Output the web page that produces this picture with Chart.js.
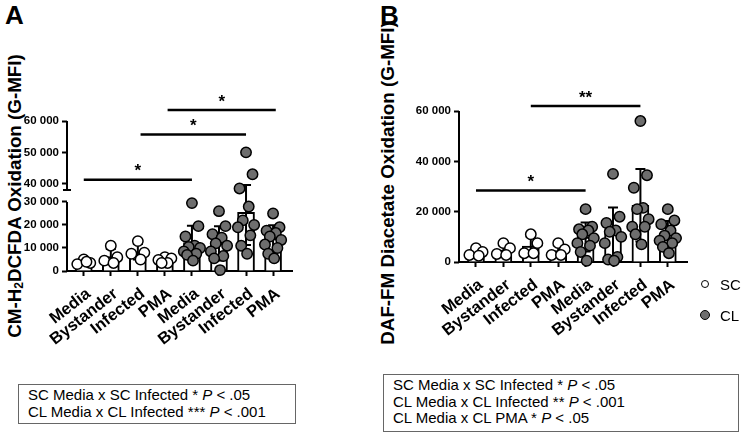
<!DOCTYPE html>
<html>
<head>
<meta charset="utf-8">
<script src="https://cdn.jsdelivr.net/npm/chart.js@4.4.1/dist/chart.umd.min.js"></script>
<style>
  body { margin: 0; background: #fff; width: 742px; height: 434px; position: relative; overflow: hidden;
         font-family: 'Liberation Sans', Arial, sans-serif; color: #000; }
  canvas { position: absolute; top: 0; }
  #chartA { left: 0; }
  #chartB { left: 370px; }
  .panel { position: absolute; font-weight: bold; font-size: 26px; line-height: 1; }
  .ytitle { position: absolute; font-weight: bold; font-size: 18.8px; white-space: nowrap;
            transform: translate(-50%, -50%) rotate(-90deg); line-height: 1; }
  .ytitle sub { font-size: 12px; vertical-align: -2px; }
  .box { position: absolute; border: 1px solid #666; box-sizing: border-box;
         font-family: 'Liberation Sans', Arial, sans-serif; font-size: 15px; line-height: 16.5px; padding: 2px 0 0 9px; }
  .leg { position: absolute; font-size: 15px; line-height: 1; }
  .dot { position: absolute; width: 8px; height: 8px; border: 1.5px solid #000; border-radius: 50%; box-sizing: border-box; }
</style>
</head>
<body>
<div class="panel" style="left:5px;top:2px">A</div>
<div class="panel" style="left:380px;top:2px">B</div>
<div class="ytitle" style="left:15px;top:196px">CM-H<sub>2</sub>DCFDA Oxidation (G-MFI)</div>
<div class="ytitle" style="left:388px;top:183px">DAF-FM Diacetate Oxidation (G-MFI)</div>
<canvas id="chartA" width="370" height="370"></canvas>
<canvas id="chartB" width="372" height="370"></canvas>
<div class="dot" style="left:701px;top:280px;background:#fff"></div>
<div class="leg" style="left:720px;top:277px">SC</div>
<div class="dot" style="left:700px;top:310px;width:10px;height:10px;background:#6e6e6e"></div>
<div class="leg" style="left:720px;top:308px">CL</div>
<div class="box" style="left:18px;top:384px;width:278px;height:40px">
  SC Media x SC Infected * <i>P</i> &lt; .05<br>CL Media x CL Infected *** <i>P</i> &lt; .001
</div>
<div class="box" style="left:383px;top:374px;width:356px;height:58px">
  SC Media x SC Infected * <i>P</i> &lt; .05<br>CL Media x CL Infected ** <i>P</i> &lt; .001<br>CL Media x CL PMA * <i>P</i> &lt; .05
</div>
<script>
const conditions = ['Media', 'Bystander', 'Infected', 'PMA'];
const groups = ['SC', 'CL'];
const xLabels = [...conditions, ...conditions];

// panel A: CM-H2DCFDA oxidation, one list per condition
const scA = [
  [5000, 3500, 3000, 4000],
  [11000, 6000, 4500, 3500],
  [13000, 8000, 7500, 5000],
  [6000, 5500, 4800, 3500, 3500]
];
const clA = [
  [29500, 19500, 15000, 11000, 10500, 10000, 8500, 7500, 7000, 4500],
  [26000, 19500, 16000, 14500, 12000, 11000, 8500, 6500, 5500, 400],
  [50000, 43000, 38500, 28000, 22000, 20000, 19000, 15500, 11000, 7500],
  [25000, 19000, 17500, 16500, 15000, 13500, 11500, 10000, 7500, 5500]
];
const ticksALow = [0, 10000, 20000, 30000];
const ticksAHigh = [40000, 50000, 60000];
const sigA = [
  { from: 0, to: 4, y: 41300, text: '*' },
  { from: 2.1, to: 6, y: 55700, text: '*' },
  { from: 3.1, to: 7.1, y: 63500, text: '*' }
];

// panel B: DAF-FM diacetate oxidation
const scB = [
  [5500, 4000, 2800, 2500],
  [7500, 5500, 3200, 2800],
  [11000, 7500, 3500, 3500],
  [7500, 5000, 2800, 2800]
];
const clB = [
  [21000, 14000, 13000, 12500, 11000, 9500, 7500, 6500, 4000, 500],
  [35000, 18000, 15500, 12500, 12000, 10000, 7500, 2000, 1000, 500],
  [56000, 34500, 29500, 21500, 21000, 17000, 14000, 14000, 11000, 7000],
  [21000, 16500, 15000, 12500, 10500, 9500, 8500, 7500, 6000, 3500]
];
const ticksB = [0, 20000, 40000, 60000];
const sigB = [
  { from: 0, to: 4, y: 28400, text: '*' },
  { from: 2, to: 6, y: 62000, text: '**' }
];

// horizontal spread of the dots inside a column
const JITTER = [0, 0.24, -0.24, 0.1, -0.12, 0.3, -0.3, 0.16, -0.18, 0.04];
const GREY = '#6e6e6e';
const LABEL_ANGLE = 38;

const fmt = v => String(v).replace(/\B(?=(\d{3})+(?!\d))/g, ' ');
const mean = a => a.reduce((s, v) => s + v, 0) / a.length;
const sd = a => { const m = mean(a); return Math.sqrt(a.reduce((s, v) => s + (v - m) ** 2, 0) / (a.length - 1)); };

function dots(lists, offset, keep) {
  const out = [];
  lists.forEach((vals, c) => vals.forEach((v, k) => {
    if (keep(v)) out.push({ x: offset + c + JITTER[k % JITTER.length], y: v });
  }));
  return out;
}

function dotSet(data, fill, axis) {
  return {
    type: 'scatter', data, yAxisID: axis, order: 1, clip: false,
    pointRadius: 5.2, pointHoverRadius: 5.2, pointBorderWidth: 1.5,
    pointBackgroundColor: fill, pointBorderColor: '#000'
  };
}

function barSet(all, axis) {
  return {
    type: 'bar', yAxisID: axis, order: 3,
    data: all.map((vals, i) => ({ x: i, y: mean(vals) })),
    backgroundColor: '#fff', borderColor: '#000', borderWidth: 2, barThickness: 17
  };
}

const tickGrid = { display: true, offset: false, drawOnChartArea: false, drawTicks: true, tickLength: 5, tickWidth: 2, tickColor: '#000' };

function xAxis(height) {
  return {
    type: 'linear', min: -0.62, max: 7.7, offset: false,
    afterBuildTicks: s => { s.ticks = xLabels.map((_, i) => ({ value: i })); },
    afterFit: s => { s.height = height; },
    ticks: { display: false },   // slanted labels are drawn by the overlay plugin
    grid: tickGrid,
    border: { display: true, color: '#000', width: 2 }
  };
}

function yAxis(min, max, ticks, width, extra) {
  return Object.assign({
    type: 'linear', position: 'left', min, max, offset: false,
    afterBuildTicks: s => { s.ticks = ticks.map(v => ({ value: v })); },
    afterFit: s => { s.width = width; },
    ticks: { callback: fmt, color: '#000', font: { family: 'Liberation Sans', size: 11.5, weight: 'bold' }, padding: 3 },
    grid: tickGrid,
    border: { display: false }
  }, extra);
}

// error bars (mean ± SD), significance brackets, slanted labels and y axis segments
function overlay(all, sig, yPix, segments) {
  return {
    id: 'overlay',
    afterDatasetDraw(chart, args) {
      if (args.meta.type !== 'bar') return;
      const ctx = chart.ctx, xs = chart.scales.x;
      ctx.save();
      ctx.strokeStyle = '#000';
      ctx.lineWidth = 2;
      all.forEach((vals, i) => {
        const m = mean(vals), s = sd(vals);
        const x = xs.getPixelForValue(i);
        const top = yPix(chart, m + s), bot = yPix(chart, Math.max(m - s, 0));
        ctx.beginPath();
        ctx.moveTo(x, bot); ctx.lineTo(x, top);
        ctx.moveTo(x - 5, top); ctx.lineTo(x + 5, top);
        ctx.moveTo(x - 5, bot); ctx.lineTo(x + 5, bot);
        ctx.stroke();
      });
      ctx.restore();
    },
    afterDraw(chart) {
      const ctx = chart.ctx, xs = chart.scales.x, a = chart.chartArea;
      ctx.save();
      ctx.strokeStyle = '#000';
      ctx.fillStyle = '#000';
      ctx.lineWidth = 2;
      segments(chart).forEach(([y1, y2, cap]) => {
        ctx.beginPath();
        ctx.moveTo(a.left, y1); ctx.lineTo(a.left, y2);
        if (cap) { ctx.moveTo(a.left - 4, y2); ctx.lineTo(a.left + 4, y2); }
        ctx.stroke();
      });

      ctx.font = 'bold 16.5px "Liberation Sans"';
      ctx.textAlign = 'right';
      ctx.textBaseline = 'middle';
      xLabels.forEach((t, i) => {
        ctx.save();
        ctx.translate(xs.getPixelForValue(i) + 5, xs.top + 21);
        ctx.rotate(-LABEL_ANGLE * Math.PI / 180);
        ctx.fillText(t, 0, 0);
        ctx.restore();
      });

      ctx.lineWidth = 2.5;
      ctx.font = 'bold 17px "Liberation Sans"';
      ctx.textAlign = 'center';
      sig.forEach(s => {
        const y = yPix(chart, s.y);
        const x1 = xs.getPixelForValue(s.from), x2 = xs.getPixelForValue(s.to);
        ctx.beginPath();
        ctx.moveTo(x1, y); ctx.lineTo(x2, y);
        ctx.stroke();
        ctx.fillText(s.text, (x1 + x2) / 2, y - 8);
      });
      ctx.restore();
    }
  };
}

const allA = [...scA, ...clA];
const yPixA = (chart, v) => v > 30000 ? chart.scales.yTop.getPixelForValue(Math.max(v, 38000))
                                      : chart.scales.y.getPixelForValue(v);
new Chart(document.getElementById('chartA'), {
  data: {
    datasets: [
      dotSet(dots(scA, 0, () => true), '#fff', 'y'),
      dotSet(dots(clA, 4, v => v <= 30000), GREY, 'y'),
      dotSet(dots(clA, 4, v => v > 30000), GREY, 'yTop'),
      barSet(allA, 'y')
    ]
  },
  options: {
    responsive: false, animation: false, events: [],
    layout: { padding: { top: 121, right: 78, left: 0, bottom: 0 } },
    plugins: { legend: { display: false }, tooltip: { enabled: false } },
    scales: {
      x: xAxis(99),
      yTop: yAxis(38000, 60000, ticksAHigh, 67, { stack: 'A', stackWeight: 69, weight: 1 }),
      y: yAxis(0, 35200, ticksALow, 67, { stack: 'A', stackWeight: 81, weight: 0 })
    }
  },
  plugins: [overlay(allA, sigA, yPixA, chart => [
    [chart.scales.yTop.getPixelForValue(60000), chart.scales.yTop.getPixelForValue(38000), true],
    [chart.scales.y.getPixelForValue(30000), chart.scales.y.getPixelForValue(0) + 1, false]
  ])]
});

const allB = [...scB, ...clB];
const yPixB = (chart, v) => chart.scales.y.getPixelForValue(v);
new Chart(document.getElementById('chartB'), {
  data: {
    datasets: [
      dotSet(dots(scB, 0, () => true), '#fff', 'y'),
      dotSet(dots(clB, 4, () => true), GREY, 'y'),
      barSet(allB, 'y')
    ]
  },
  options: {
    responsive: false, animation: false, events: [],
    layout: { padding: { top: 111, right: 55, left: 0, bottom: 0 } },
    plugins: { legend: { display: false }, tooltip: { enabled: false } },
    scales: {
      x: xAxis(108),
      y: yAxis(0, 60000, ticksB, 89)
    }
  },
  plugins: [overlay(allB, sigB, yPixB, chart => [
    [chart.scales.y.getPixelForValue(60000), chart.scales.y.getPixelForValue(0) + 1, false]
  ])]
});
</script>
</body>
</html>
